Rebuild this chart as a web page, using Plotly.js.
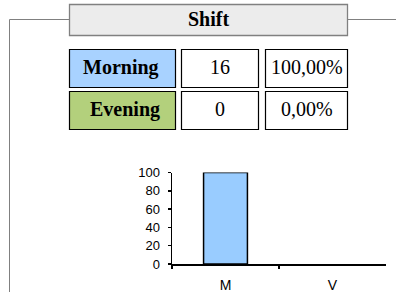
<!DOCTYPE html>
<html>
<head>
<meta charset="utf-8">
<script src="https://cdn.plot.ly/plotly-3.0.1.min.js"></script>
<style>html,body{margin:0;padding:0;background:#fff;}#chart{width:396px;height:292px;}</style>
</head>
<body>
<div id="chart"></div>
<script>
// ---- data ----
const chartTitle = 'Shift';
const shifts = ['Morning', 'Evening'];
const counts = [16, 0];
const percentLabels = ['100,00%', '0,00%'];
const categories = ['M', 'V'];
const barValues = [100, 0];
const yTicks = [0, 20, 40, 60, 80, 100];
const shiftColors = ['#a8d2ff', '#b3d07c'];

// ---- layout helpers (pixel -> paper) ----
const W = 396, H = 292;
const px = x => x / W;
const py = y => 1 - y / H;

const shapes = [];
const annotations = [];

// outer frame line
shapes.push({type: 'path', xref: 'paper', yref: 'paper',
  path: `M ${px(9.5)},${py(292)} L ${px(9.5)},${py(19.5)} L ${px(69)},${py(19.5)}`,
  line: {color: '#808080', width: 1}});
shapes.push({type: 'line', xref: 'paper', yref: 'paper',
  x0: px(347), x1: px(396), y0: py(19.5), y1: py(19.5),
  line: {color: '#808080', width: 1}});
// title box
shapes.push({type: 'rect', xref: 'paper', yref: 'paper',
  x0: px(69.5), x1: px(347.5), y0: py(4.5), y1: py(35.5),
  fillcolor: '#ececec', line: {color: '#808080', width: 1.3}});
annotations.push({xref: 'paper', yref: 'paper', x: px(208.5), y: py(19), text: '<b>' + chartTitle + '</b>',
  showarrow: false, xanchor: 'center', yanchor: 'middle',
  font: {family: 'Liberation Serif, Times New Roman, serif', size: 20, color: '#000'}});

// table rows
const cols = [[69.5, 175.5], [181.5, 258.5], [265.5, 347.5]];
const rows = [[49.5, 87.5], [91.5, 129.5]];
shifts.forEach((s, i) => {
  const [t, b] = rows[i];
  const texts = ['<b>' + s + '</b>', String(counts[i]), percentLabels[i]];
  cols.forEach((c, j) => {
    shapes.push({type: 'rect', xref: 'paper', yref: 'paper',
      x0: px(c[0]), x1: px(c[1]), y0: py(t), y1: py(b),
      fillcolor: j === 0 ? shiftColors[i] : '#ffffff', line: {color: '#000', width: 1.2}});
    const cx = j === 0 ? (c[0] + c[1]) / 2 + (i === 0 ? -1.5 : 2.5) : (c[0] + c[1]) / 2;
    annotations.push({xref: 'paper', yref: 'paper', x: px(cx), y: py((t + b) / 2 - 1.5),
      text: texts[j], showarrow: false, xanchor: 'center', yanchor: 'middle',
      font: {family: 'Liberation Serif, Times New Roman, serif', size: 20, color: '#000'}});
  });
});

const trace = {
  type: 'bar', x: categories, y: barValues, width: 0.41,
  marker: {color: '#99ccff', line: {color: '#000', width: barValues.map(v => v > 0 ? 1.5 : 0)}},
  hoverinfo: 'skip'
};

const layout = {
  width: W, height: H,
  margin: {l: 0, r: 0, t: 0, b: 0},
  paper_bgcolor: '#fff', plot_bgcolor: 'rgba(0,0,0,0)',
  showlegend: false,
  font: {family: 'Liberation Sans, Arial, sans-serif', size: 13, color: '#000'},
  xaxis: {
    domain: [px(172), px(386)], type: 'category', range: [-0.5, 1.5],
    showline: true, linecolor: '#000', linewidth: 1.5,
    ticks: 'outside', tickson: 'boundaries', ticklen: 3, tickwidth: 1.5, tickcolor: '#000',
    showgrid: false, zeroline: false, ticklabelstandoff: 8,
    tickfont: {family: 'Liberation Sans, Arial, sans-serif', size: 14, color: '#000'}
  },
  yaxis: {
    domain: [py(264), py(172.5)], range: [0, 100],
    tickmode: 'array', tickvals: yTicks, ticktext: yTicks.map(String),
    showline: true, linecolor: '#000', linewidth: 1.5,
    ticks: 'outside', ticklen: 3, tickwidth: 1.5, tickcolor: '#000',
    showgrid: false, zeroline: false, ticklabelstandoff: 5,
    tickfont: {family: 'Liberation Sans, Arial, sans-serif', size: 13, color: '#000'}
  },
  shapes: shapes,
  annotations: annotations
};

Plotly.newPlot('chart', [trace], layout, {displayModeBar: false, staticPlot: true});
</script>
</body>
</html>
